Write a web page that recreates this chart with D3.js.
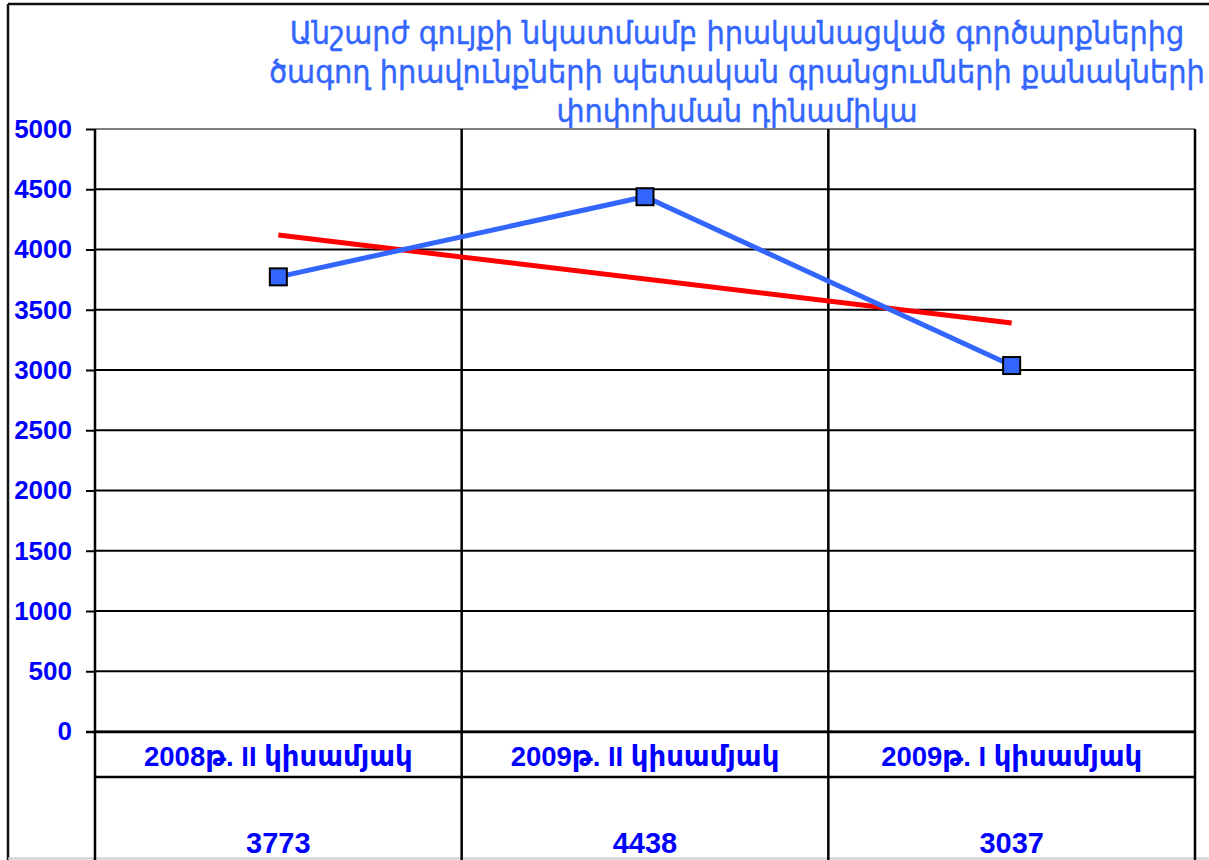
<!DOCTYPE html>
<html>
<head>
<meta charset="utf-8">
<script src="https://cdn.jsdelivr.net/npm/d3@7"></script>
<style>
  body { margin: 0; background: #fff; }
  svg { display: block; }
</style>
</head>
<body>
<div id="figure"></div>
<script>
// chart values
const titleLines = [
  "Անշարժ գույքի նկատմամբ իրականացված գործարքներից",
  "ծագող իրավունքների պետական գրանցումների քանակների",
  "փոփոխման դինամիկա"
];
const categories = ["2008թ. II կիսամյակ", "2009թ. II կիսամյակ", "2009թ. I կիսամյակ"];
const values = [3773, 4438, 3037];
const trendValues = [4120, 3390];   // linear trend at first and last category
const yTicks = [0, 500, 1000, 1500, 2000, 2500, 3000, 3500, 4000, 4500, 5000];

const W = 1209, H = 860;
const margin = {top: 129, right: 14, bottom: 128, left: 95};
const width = W - margin.left - margin.right,
      height = H - margin.top - margin.bottom;

const svg = d3.select("#figure")
  .append("svg")
  .attr("width", W)
  .attr("height", H);

// outer frame
svg.append("line").attr("x1", 8).attr("x2", W).attr("y1", 4).attr("y2", 4)
  .attr("stroke", "#111").attr("stroke-width", 2.5);
svg.append("line").attr("x1", 8).attr("x2", 8).attr("y1", 4).attr("y2", H)
  .attr("stroke", "#111").attr("stroke-width", 2.5);
svg.append("line").attr("x1", 8).attr("x2", W).attr("y1", H - 1.5).attr("y2", H - 1.5)
  .attr("stroke", "#ccc").attr("stroke-width", 2);

// title
svg.append("g")
  .selectAll("text")
  .data(titleLines)
  .join("text")
  .attr("x", 737)
  .attr("y", (d, i) => 44 + i * 39)
  .attr("text-anchor", "middle")
  .attr("font-family", "'DejaVu Sans Condensed', 'DejaVu Sans', sans-serif")
  .attr("font-size", 32)
  .attr("stroke", "#3366ff")
  .attr("stroke-width", 0.4)
  .attr("fill", "#3366ff")
  .text(d => d);

const g = svg.append("g")
  .attr("transform", `translate(${margin.left},${margin.top})`);

const x = d3.scaleBand().domain(categories).range([0, width]);
const y = d3.scaleLinear().domain([0, 5000]).range([height - 0.5, 0]);

// horizontal grid
g.append("g")
  .selectAll("line")
  .data(yTicks)
  .join("line")
  .attr("x1", 0).attr("x2", width)
  .attr("y1", d => y(d)).attr("y2", d => y(d))
  .attr("stroke", d => d === 5000 ? "#808080" : "#000")
  .attr("stroke-width", 2);

// right border of plot area
g.append("line")
  .attr("x1", width).attr("x2", width).attr("y1", 0).attr("y2", height)
  .attr("stroke", "#808080").attr("stroke-width", 2);

// y axis
const yAxis = d3.axisLeft(y).tickValues(yTicks).tickFormat(d3.format("d")).tickSize(9).tickPadding(14);
g.append("g")
  .call(yAxis)
  .call(a => a.select(".domain").remove())
  .call(a => a.selectAll(".tick line").attr("stroke", "#000").attr("stroke-width", 2))
  .call(a => a.selectAll(".tick text")
    .attr("font-family", "'Liberation Sans', Arial, sans-serif")
    .attr("font-weight", "bold")
    .attr("font-size", 26)
    .attr("fill", "#0000ff"));

// data table below the plot
const rowH = 45;
const tableBottom = H - margin.top + 200;
const bounds = [0].concat(categories.map(c => x(c) + x.bandwidth()));
g.append("g")
  .selectAll("line")
  .data(bounds)
  .join("line")
  .attr("x1", d => d).attr("x2", d => d)
  .attr("y1", 0).attr("y2", tableBottom)
  .attr("stroke", "#000").attr("stroke-width", 2.5);
g.append("line")
  .attr("x1", width).attr("x2", width).attr("y1", height).attr("y2", tableBottom)
  .attr("stroke", "#000").attr("stroke-width", 2);
g.append("line")
  .attr("x1", -9).attr("x2", width).attr("y1", height).attr("y2", height)
  .attr("stroke", "#000").attr("stroke-width", 2.5);
g.append("line")
  .attr("x1", 0).attr("x2", width).attr("y1", height + rowH).attr("y2", height + rowH)
  .attr("stroke", "#000").attr("stroke-width", 2.5);

const tableText = (sel, size) => sel
  .attr("text-anchor", "middle")
  .attr("font-family", "'Liberation Sans', Arial, 'DejaVu Sans', sans-serif")
  .attr("font-weight", "bold")
  .attr("font-size", size)
  .attr("fill", "#0000ff");

g.append("g")
  .selectAll("text")
  .data(categories)
  .join("text")
  .attr("x", d => x(d) + x.bandwidth() / 2)
  .attr("y", height + 34)
  .call(tableText, 27.5)
  .text(d => d);

g.append("g")
  .selectAll("text")
  .data(values)
  .join("text")
  .attr("x", (d, i) => x(categories[i]) + x.bandwidth() / 2)
  .attr("y", height + 121)
  .call(tableText, 29)
  .text(d => d);

// trend line
g.append("path")
  .datum(trendValues)
  .attr("fill", "none")
  .attr("stroke", "#ff0000")
  .attr("stroke-width", 5)
  .attr("d", d3.line()
    .x((d, i) => x(categories[i === 0 ? 0 : categories.length - 1]) + x.bandwidth() / 2)
    .y(d => y(d)));

// series line
g.append("path")
  .datum(values)
  .attr("fill", "none")
  .attr("stroke", "#3366ff")
  .attr("stroke-width", 5)
  .attr("d", d3.line()
    .x((d, i) => x(categories[i]) + x.bandwidth() / 2)
    .y(d => y(d)));

// markers
g.append("g")
  .selectAll("rect")
  .data(values)
  .join("rect")
  .attr("x", (d, i) => x(categories[i]) + x.bandwidth() / 2 - 8.5)
  .attr("y", d => y(d) - 8.5)
  .attr("width", 17)
  .attr("height", 17)
  .attr("fill", "#3366ff")
  .attr("stroke", "#000")
  .attr("stroke-width", 2);
</script>
</body>
</html>
